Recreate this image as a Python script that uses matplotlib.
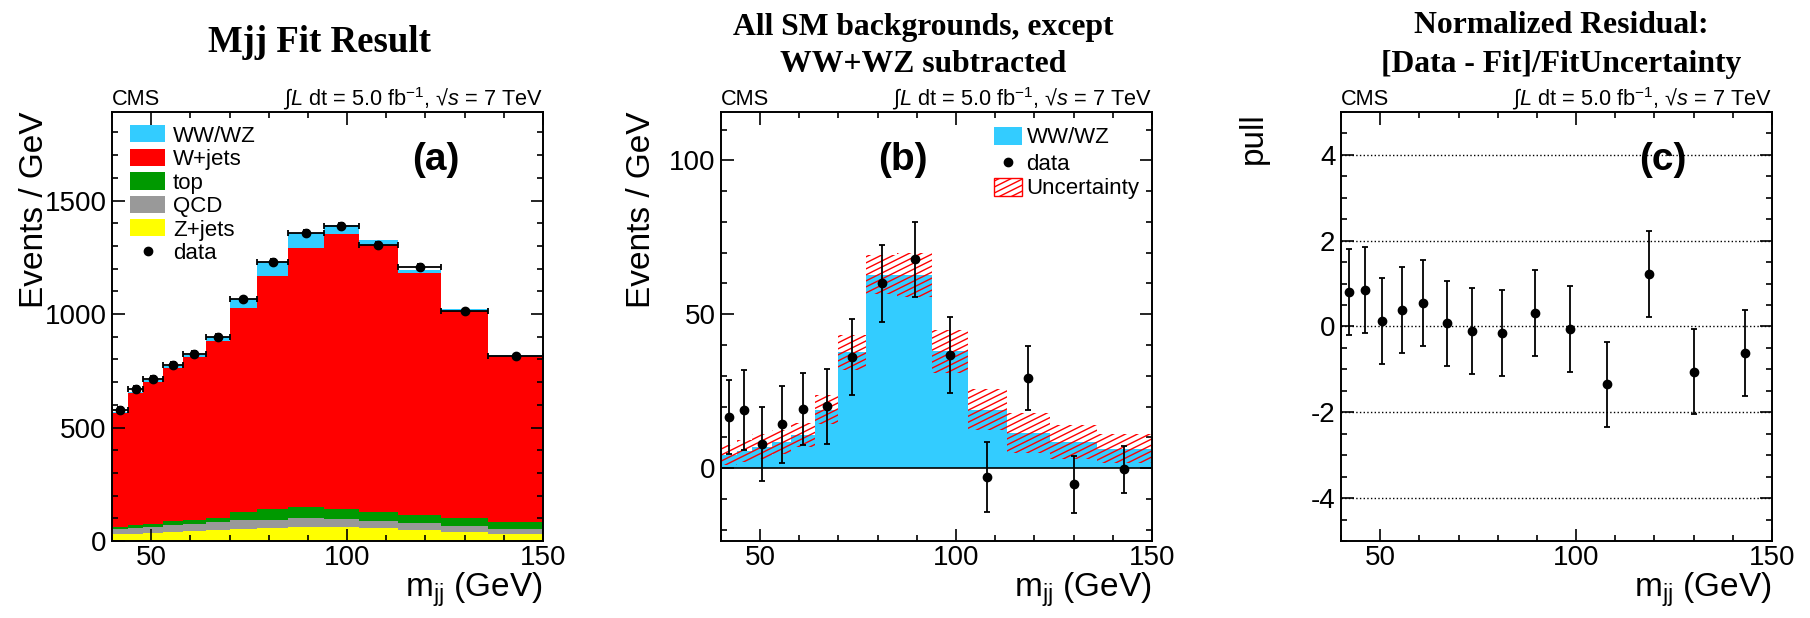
import numpy as np
import matplotlib
matplotlib.use("Agg")
import matplotlib.pyplot as plt
from matplotlib.patches import Rectangle
from matplotlib.collections import LineCollection
from matplotlib.ticker import MultipleLocator

plt.rcParams['font.family'] = ['Liberation Sans', 'DejaVu Sans']
plt.rcParams['mathtext.fontset'] = 'custom'
plt.rcParams['mathtext.rm'] = 'Liberation Sans'
plt.rcParams['mathtext.it'] = 'Liberation Sans:italic'
plt.rcParams['mathtext.bf'] = 'Liberation Sans:bold'
plt.rcParams['axes.unicode_minus'] = False

# variable-width m_jj bins (GeV)
edges = np.array([40, 44, 48, 53, 58, 64, 70, 77, 85, 94, 103, 113, 124, 136, 150])

# fitted contributions, events / GeV
zjets = [29, 32, 35, 41, 43, 47, 51, 57, 62, 60, 56, 50, 41, 31]
qcd = [22, 27, 27, 31, 31, 35, 42, 37, 39, 37, 34, 29, 25, 23]
top = [9, 10, 14, 16, 17, 19, 33, 47, 50, 43, 38, 37, 34, 28]
wjets = [504, 581, 626, 674, 718, 778, 901, 1027, 1141, 1212, 1178, 1065, 915, 732]
ww = [4.3, 5.5, 7.0, 8.5, 10.8, 19.0, 37.6, 62.8, 62.8, 38.0, 19.0, 11.4, 8.5, 6.3]

data = [578, 671, 714, 774, 826, 898, 1064, 1228, 1359, 1387, 1306, 1209, 1015, 817]
data_err = [12.0, 13.0, 12.0, 12.4, 11.7, 12.2, 12.3, 12.4, 12.3, 12.4, 11.4, 10.5, 9.2, 7.6]

# background-subtracted data and fit uncertainty on WW/WZ
sub_data = [16.5, 18.8, 7.9, 14.2, 19.3, 20.1, 36.0, 60.0, 67.8, 36.8, -2.8, 29.3, -5.3, -0.4]
ww_unc = [3.2, 3.6, 4.0, 4.0, 3.9, 4.8, 5.7, 6.4, 7.1, 7.0, 6.7, 6.5, 5.4, 4.8]

# normalized residuals
pull = [0.81, 0.85, 0.13, 0.38, 0.55, 0.07, -0.11, -0.15, 0.31, -0.06, -1.35, 1.22, -1.05, -0.62]
pull_err = [1.0] * 14

centers = 0.5 * (edges[1:] + edges[:-1])
halfw = 0.5 * (edges[1:] - edges[:-1])

C_WW = '#33ccff'
C_WJ = '#ff0000'
C_TOP = '#009900'
C_QCD = '#999999'
C_ZJ = '#ffff00'

fig = plt.figure(figsize=(18.1, 6.18), dpi=100)
ax_a = fig.add_axes([0.0619, 0.1246, 0.2381, 0.6942])
ax_b = fig.add_axes([0.3983, 0.1246, 0.2381, 0.6942])
ax_c = fig.add_axes([0.7409, 0.1246, 0.2381, 0.6942])


def style_axes(ax, ymaj, ymin):
    ax.set_xlim(40, 150)
    ax.xaxis.set_major_locator(MultipleLocator(50))
    ax.xaxis.set_minor_locator(MultipleLocator(10))
    ax.yaxis.set_major_locator(MultipleLocator(ymaj))
    ax.yaxis.set_minor_locator(MultipleLocator(ymin))
    ax.tick_params(which='both', direction='in', top=True, right=True, width=1.2)
    ax.tick_params(which='major', length=9, labelsize=20)
    ax.tick_params(which='minor', length=4.5)
    ax.tick_params(axis='x', pad=3)
    ax.tick_params(axis='y', pad=4)
    for s in ax.spines.values():
        s.set_linewidth(1.4)
    ax.text(0, 1.016, 'CMS', transform=ax.transAxes, ha='left', va='baseline', fontsize=15.7)
    ax.text(1, 1.016, '∫$L$ dt = 5.0 fb$^{-1}$, √$s$ = 7 TeV',
            transform=ax.transAxes, ha='right', va='baseline', fontsize=15.7)
    ax.text(1, -0.1305, r'm$_{\rm jj}$ (GeV)', transform=ax.transAxes,
            ha='right', va='baseline', fontsize=24)


def ylabel(ax, text, x):
    ax.text(x, 1.0, text, transform=ax.transAxes, rotation=90, rotation_mode='anchor',
            ha='right', va='baseline', fontsize=24)


def shallow_hatch(ax, clip, slope=0.5, step=0.014):
    # red hatching at a low angle, clipped to the given patch
    segs = [[(0, c), (1, c + slope)] for c in np.arange(-slope, 1.0, step)]
    lc = LineCollection(segs, colors='red', linewidths=1.0, transform=ax.transAxes)
    ax.add_collection(lc, autolim=False)
    lc.set_clip_path(clip)


# (a) stacked fit result
base = np.zeros(len(edges) - 1)
for vals, col in [(zjets, C_ZJ), (qcd, C_QCD), (top, C_TOP), (wjets, C_WJ), (ww, C_WW)]:
    ax_a.stairs(base + np.array(vals), edges, baseline=base, fill=True, color=col, lw=0)
    base = base + np.array(vals)
ax_a.errorbar(centers, data, xerr=halfw, yerr=data_err, fmt='o', color='black',
              ms=6, elinewidth=1.3, capsize=2.5, capthick=1.3)
ax_a.set_ylim(0, 1890)
style_axes(ax_a, 500, 100)
ylabel(ax_a, 'Events / GeV', -0.160)
ax_a.text(0.752, 0.888, '(a)', transform=ax_a.transAxes, ha='center', va='center',
          fontsize=28, fontweight='bold')

leg_rows = [0.949, 0.894, 0.839, 0.784, 0.730]
for (lab, col), yy in zip([('WW/WZ', C_WW), ('W+jets', C_WJ), ('top', C_TOP),
                           ('QCD', C_QCD), ('Z+jets', C_ZJ)], leg_rows):
    ax_a.add_patch(Rectangle((0.042, yy - 0.020), 0.081, 0.040, transform=ax_a.transAxes,
                             facecolor=col, edgecolor='none'))
    ax_a.text(0.141, yy - 0.018, lab, transform=ax_a.transAxes, ha='left', va='baseline',
              fontsize=16)
ax_a.plot([0.084], [0.676], 'o', color='black', ms=6, transform=ax_a.transAxes)
ax_a.text(0.141, 0.676 - 0.018, 'data', transform=ax_a.transAxes, ha='left', va='baseline',
          fontsize=16)

# (b) background-subtracted
ww_arr = np.array(ww)
unc_arr = np.array(ww_unc)
ax_b.stairs(ww_arr, edges, baseline=0, fill=True, color=C_WW, lw=0)
band = ax_b.stairs(ww_arr + unc_arr, edges, baseline=ww_arr - unc_arr, fill=True,
                   facecolor='none', edgecolor='none', lw=0)
shallow_hatch(ax_b, band)
ax_b.axhline(0, color='black', lw=1.2)
ax_b.errorbar(centers, sub_data, yerr=data_err, fmt='o', color='black',
              ms=6, elinewidth=1.3, capsize=2.5, capthick=1.3)
ax_b.set_ylim(-23.7, 115.7)
style_axes(ax_b, 50, 10)
ylabel(ax_b, 'Events / GeV', -0.165)
ax_b.text(0.423, 0.888, '(b)', transform=ax_b.transAxes, ha='center', va='center',
          fontsize=28, fontweight='bold')

ax_b.add_patch(Rectangle((0.633, 0.945 - 0.021), 0.065, 0.042, transform=ax_b.transAxes,
                         facecolor=C_WW, edgecolor='none'))
ax_b.text(0.709, 0.945 - 0.018, 'WW/WZ', transform=ax_b.transAxes, ha='left',
          va='baseline', fontsize=16)
ax_b.plot([0.666], [0.883], 'o', color='black', ms=6, transform=ax_b.transAxes)
ax_b.text(0.709, 0.883 - 0.018, 'data', transform=ax_b.transAxes, ha='left',
          va='baseline', fontsize=16)
unc_box = Rectangle((0.633, 0.826 - 0.021), 0.065, 0.042, transform=ax_b.transAxes,
                    facecolor='white', edgecolor='red', lw=1)
ax_b.add_patch(unc_box)
shallow_hatch(ax_b, unc_box)
ax_b.text(0.709, 0.826 - 0.018, 'Uncertainty', transform=ax_b.transAxes, ha='left',
          va='baseline', fontsize=16)

# (c) pulls
ax_c.set_ylim(-5, 5)
style_axes(ax_c, 2, 0.5)
ax_c.yaxis.grid(True, which='major', linestyle=':', color='black', lw=1.0)
ax_c.errorbar(centers, pull, yerr=pull_err, fmt='o', color='black',
              ms=6, elinewidth=1.3, capsize=2.5, capthick=1.3)
ylabel(ax_c, 'pull', -0.183)
ax_c.text(0.747, 0.888, '(c)', transform=ax_c.transAxes, ha='center', va='center',
          fontsize=28, fontweight='bold')

# panel titles
tfont = dict(family='Liberation Serif', fontweight='bold', ha='center', va='baseline')
fig.text(319 / 1810, 1 - 51.5 / 618, 'Mjj Fit Result', fontsize=26.5, **tfont)
fig.text(923 / 1810, 1 - 35 / 618, 'All SM backgrounds, except', fontsize=22.8, **tfont)
fig.text(923 / 1810, 1 - 72 / 618, 'WW+WZ subtracted', fontsize=22.8, **tfont)
fig.text(1561 / 1810, 1 - 33 / 618, 'Normalized Residual:', fontsize=22.8, **tfont)
fig.text(1561 / 1810, 1 - 72 / 618, '[Data - Fit]/FitUncertainty', fontsize=22.8, **tfont)

fig.savefig('out.png', dpi=100)
